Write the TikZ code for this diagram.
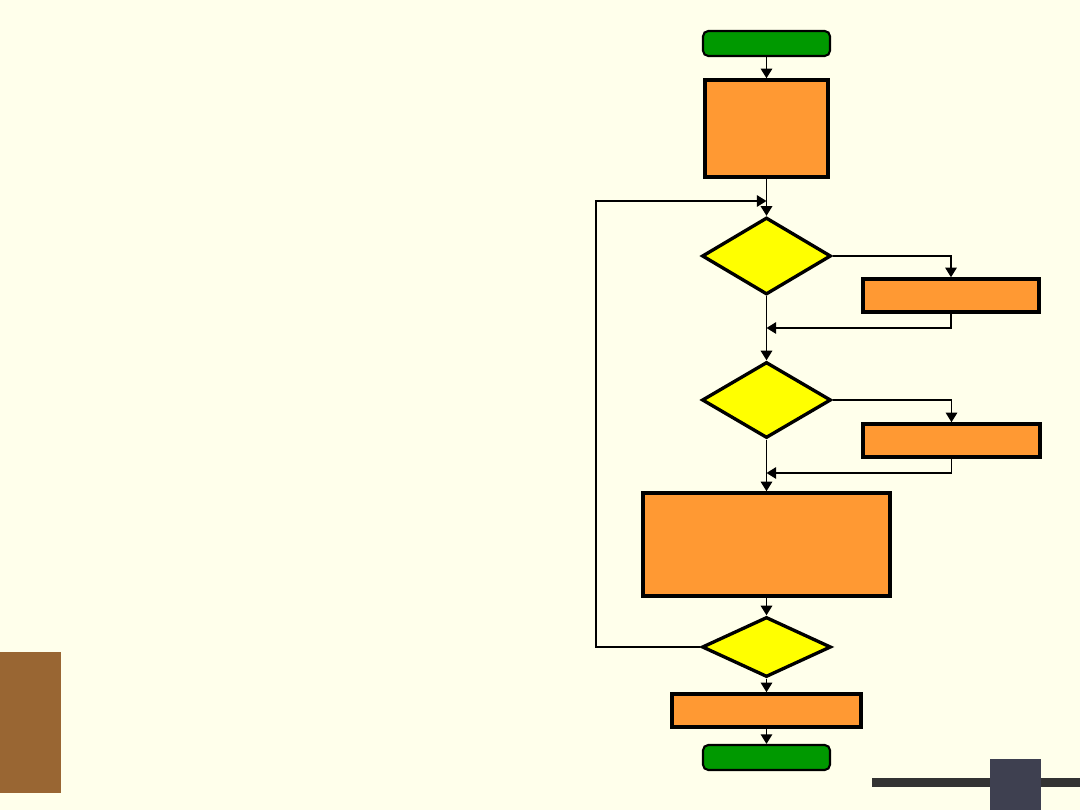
\documentclass[tikz,border=0pt]{standalone}
\usepackage{tikz}
\usetikzlibrary{positioning,arrows.meta,shapes.geometric}
\definecolor{paper}{RGB}{255,255,235}
\definecolor{procfill}{RGB}{255,153,51}
\definecolor{termfill}{RGB}{0,153,0}
\definecolor{testfill}{RGB}{255,255,0}
\definecolor{barbrown}{RGB}{153,102,51}
\definecolor{bargray}{RGB}{51,51,51}
\definecolor{knob}{RGB}{62,64,80}

\begin{document}
\begin{tikzpicture}[x=0.02cm,y=-0.02cm,
  proc/.style={draw,line width=2pt,fill=procfill,inner sep=0pt},
  term/.style={draw,line width=1.2pt,fill=termfill,rounded corners=3pt,inner sep=0pt,
    minimum width=2.54cm,minimum height=0.5cm},
  test/.style={diamond,draw,line width=1.9pt,fill=testfill,inner sep=0pt,
    minimum width=2.58cm},
  flow/.style={line width=1.1pt,-{Triangle[length=5.5pt,width=6.5pt]}},
  link/.style={line width=1.1pt}]
  % page
  \useasboundingbox (0,0) rectangle (1080,810);
  \fill[paper] (0,0) rectangle (1080,810);
  \fill[barbrown] (0,652) rectangle (61,793);
  \fill[bargray] (872,778) rectangle (1080,787);
  \fill[knob] (990,759) rectangle (1041,810);
  % chart nodes
  \node[term] (start) at (766.5,43.5) {};
  \node[proc,minimum width=2.46cm,minimum height=1.94cm] (init) at (766.5,128.5) {};
  \node[test,minimum height=1.54cm] (cond1) at (766.5,256) {};
  \node[proc,minimum width=3.52cm,minimum height=0.66cm] (act1) at (951,295.5) {};
  \node[test,minimum height=1.52cm] (cond2) at (766.5,400) {};
  \node[proc,minimum width=3.54cm,minimum height=0.66cm] (act2) at (951.5,440.5) {};
  \node[proc,minimum width=4.94cm,minimum height=2.06cm] (body) at (766.5,544.5) {};
  \node[test,minimum height=1.2cm] (cond3) at (766.5,647) {};
  \node[proc,minimum width=3.78cm,minimum height=0.66cm] (final) at (766.5,710.5) {};
  \node[term] (stop) at (766.5,757.5) {};
  % joins
  \coordinate (back) at (766.5,201);
  \coordinate (loop) at (596,201);
  \coordinate (join1) at (766.5,328);
  \coordinate (join2) at (766.5,473);
  % connectors
  \draw[flow] (start) -- (init);
  \draw[flow] (init) -- (cond1);
  \draw[flow] (cond1.east) -| (act1.north);
  \draw[flow] (act1.south) |- (join1);
  \draw[flow] (cond1) -- (cond2);
  \draw[flow] (cond2.east) -| (act2.north);
  \draw[flow] (act2.south) |- (join2);
  \draw[flow] (cond2) -- (body);
  \draw[flow] (body) -- (cond3);
  \draw[flow] (cond3) -- (final);
  \draw[flow] (final) -- (stop);
  \draw[flow] (cond3.west) -| (loop) -- (back);
\end{tikzpicture}
\end{document}
